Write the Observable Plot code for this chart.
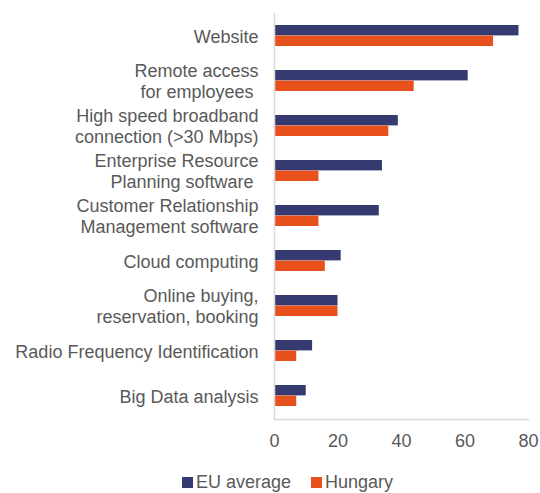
<!DOCTYPE html>
<html>
<head>
<meta charset="utf-8">
<script src="https://cdn.jsdelivr.net/npm/d3@7"></script>
<script src="https://cdn.jsdelivr.net/npm/@observablehq/plot@0.6"></script>
<style>
  html, body { margin: 0; padding: 0; background: #fff; }
  body { width: 540px; height: 493px; position: relative; overflow: hidden; font-family: "Liberation Sans", Arial, sans-serif; }
  #legend { position: absolute; top: 471px; left: 182px; display: flex; align-items: center; font-size: 18px; line-height: 22px; color: #595959; }
  #legend .item { display: flex; align-items: center; margin-right: 20px; }
  #legend .sw { width: 11px; height: 11px; margin-right: 3px; }
</style>
</head>
<body>
<div id="chart"></div>
<div id="legend"></div>
<script>
const categories = [
  "Website",
  "Remote access for employees",
  "High speed broadband connection (>30 Mbps)",
  "Enterprise Resource Planning software",
  "Customer Relationship Management software",
  "Cloud computing",
  "Online buying, reservation, booking",
  "Radio Frequency Identification",
  "Big Data analysis"
];
const categoryLabels = [
  "Website",
  "Remote access\nfor employees\u00a0",
  "High speed broadband\nconnection (>30 Mbps)",
  "Enterprise Resource\nPlanning software\u00a0",
  "Customer Relationship\nManagement software",
  "Cloud computing",
  "Online buying,\nreservation, booking",
  "Radio Frequency Identification",
  "Big Data analysis"
];
const seriesNames = ["EU average", "Hungary"];
const seriesColors = ["#353b70", "#e8511b"];
const euValues = [77, 61, 39, 34, 33, 21, 20, 12, 10];
const huValues = [69, 44, 36, 14, 14, 16, 20, 7, 7];
const xTicks = [0, 20, 40, 60, 80];

const rows = [];
categories.forEach((c, i) => {
  rows.push({category: c, series: seriesNames[0], value: euValues[i]});
  rows.push({category: c, series: seriesNames[1], value: huValues[i]});
});
const labelOf = new Map(categories.map((c, i) => [c, categoryLabels[i]]));

const plot = Plot.plot({
  width: 540,
  height: 460,
  marginLeft: 274,
  marginRight: 12,
  marginTop: 13,
  marginBottom: 41,
  style: {fontFamily: "Liberation Sans, Arial, sans-serif", fontSize: "18px", color: "#595959", background: "#fff"},
  x: {domain: [0, 80], ticks: xTicks, label: null},
  y: {domain: categories, paddingInner: 0.53, paddingOuter: 0.265, label: null},
  color: {domain: seriesNames, range: seriesColors},
  marks: [
    Plot.barX(rows.filter(d => d.series === seriesNames[0]), {x: "value", y: "category", fill: seriesColors[0], insetBottom: 10.6, insetTop: 0}),
    Plot.barX(rows.filter(d => d.series === seriesNames[1]), {x: "value", y: "category", fill: seriesColors[1], insetTop: 10.6, insetBottom: 0}),
    Plot.ruleX([0], {stroke: "#d9d9d9", strokeWidth: 1.5}),
    Plot.frame({anchor: "bottom", stroke: "#d9d9d9", strokeWidth: 1.5}),
    Plot.axisX({ticks: xTicks, tickSize: 0, tickPadding: 15, fontSize: 18, fill: "#595959", label: null}),
    Plot.axisY({tickSize: 0, tickPadding: 16, fontSize: 18, fill: "#595959", lineHeight: 1.15, tickFormat: d => labelOf.get(d), label: null})
  ]
});
document.getElementById("chart").appendChild(plot);

const legend = document.getElementById("legend");
seriesNames.forEach((name, i) => {
  const item = document.createElement("div");
  item.className = "item";
  const sw = document.createElement("div");
  sw.className = "sw";
  sw.style.background = seriesColors[i];
  const t = document.createElement("span");
  t.textContent = name;
  item.appendChild(sw);
  item.appendChild(t);
  legend.appendChild(item);
});
</script>
</body>
</html>
